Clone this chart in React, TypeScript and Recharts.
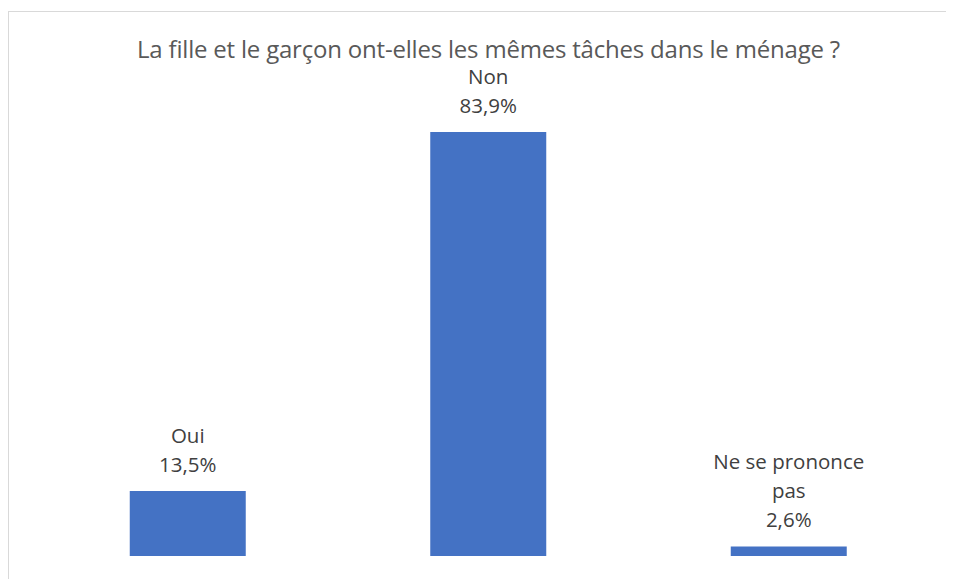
import { BarChart, Bar, XAxis, YAxis, LabelList } from "recharts";

const categories = ["Oui", "Non", "Ne se prononce pas"];
const shares = [13.5, 83.9, 2.6];

const TITLE = "La fille et le garçon ont-elles les mêmes tâches dans le ménage ?";
const BAR_COLOR = "#4472C4";
const TEXT_COLOR = "#404040";
const FONT = "'Open Sans', sans-serif";

const rows = categories.map((name, i) => ({ name, value: shares[i] }));

const fmt = (v: number) => v.toFixed(1).replace(".", ",") + "%";

// naive word wrap, Excel breaks "Ne se prononce pas" after "prononce"
function wrap(text: string, maxChars = 15) {
  const lines: string[] = [];
  let cur = "";
  for (const w of text.split(" ")) {
    const next = cur ? cur + " " + w : w;
    if (next.length > maxChars && cur) {
      lines.push(cur);
      cur = w;
    } else cur = next;
  }
  if (cur) lines.push(cur);
  return lines;
}

function BarLabel(props: any) {
  const { x, y, width, value } = props;
  const row = rows.find((r) => r.name === value);
  if (!row) return null;
  const lines = [...wrap(row.name), fmt(row.value)];
  const cx = Number(x) + Number(width) / 2;
  const base = Number(y) - 19.5;
  return (
    <text textAnchor="middle" fill={TEXT_COLOR} fontSize={20.5} fontFamily={FONT}>
      {lines.map((l, i) => (
        <tspan key={i} x={cx} y={base - (lines.length - 1 - i) * 29}>
          {l}
        </tspan>
      ))}
    </text>
  );
}

export default function App() {
  return (
    <div style={{ position: "relative", width: 960, height: 571, overflow: "hidden", background: "#fff" }}>
      <style>{`html,body{overflow:hidden}`}</style>
      <div
        style={{
          position: "absolute",
          left: 0,
          top: 3,
          width: 1000,
          height: 700,
          borderTop: "1px solid #d9d9d9",
          borderLeft: "1px solid #d9d9d9",
        }}
      />
      <div
        style={{
          position: "absolute",
          left: 0,
          width: 961,
          top: 28.7,
          lineHeight: "24px",
          textAlign: "center",
          fontFamily: FONT,
          fontSize: 24,
          letterSpacing: -0.2,
          color: "#595959",
          whiteSpace: "nowrap",
        }}
      >
        {TITLE}
      </div>
      <div style={{ position: "absolute", left: 0, top: 0 }}>
        <BarChart
          width={946}
          height={571}
          data={rows}
          margin={{ top: 93, right: 14.75, bottom: 23, left: 29.75 }}
        >
          <XAxis dataKey="name" hide />
          <YAxis hide domain={[0.75, 90]} allowDataOverflow />
          <Bar dataKey="value" fill={BAR_COLOR} barSize={116} isAnimationActive={false}>
            <LabelList dataKey="name" content={BarLabel} />
          </Bar>
        </BarChart>
      </div>
    </div>
  );
}
